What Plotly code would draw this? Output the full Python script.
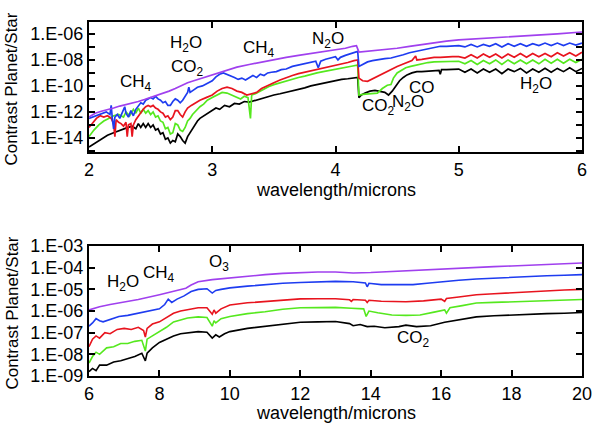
import plotly.graph_objects as go

# ---------------- TOP PANEL (2-6 microns), values as log10(contrast) ----------------
top_black_x = [2.00,2.05,2.10,2.15,2.20,2.25,2.30,2.35,2.38,2.40,2.42,2.44,2.46,2.48,2.50,2.52,2.54,2.56,2.58,2.60,2.62,2.64,2.66,2.68,2.70,2.72,2.74,2.76,2.78,2.80,2.82,2.84,2.86,2.88,2.90,2.93,2.96,3.00,3.03,3.06,3.10,3.14,3.18,3.22,3.26,3.30,3.35,3.40,3.45,3.50,3.55,3.60,3.65,3.70,3.75,3.80,3.85,3.90,3.95,4.00,4.05,4.10,4.15,4.18,4.19,4.21,4.24,4.28,4.32,4.36,4.40,4.43,4.46,4.49,4.52,4.55,4.58,4.62,4.66,4.70,4.75,4.80,4.84,4.85,4.86,4.90,4.95,5.00,5.05,5.10,5.15,5.20,5.25,5.30,5.35,5.40,5.45,5.50,5.55,5.60,5.65,5.70,5.75,5.80,5.85,5.90,5.95,6.00]
top_black_log = [-14.7,-14.4,-14.1,-13.8,-13.6,-13.4,-13.25,-13.1,-13.3,-12.9,-13.2,-12.9,-13.2,-12.9,-13.2,-13.0,-13.4,-13.3,-13.7,-13.6,-14.1,-14.0,-14.4,-14.2,-14.3,-13.7,-13.9,-14.2,-14.4,-13.9,-13.6,-13.3,-12.9,-12.7,-12.5,-12.3,-12.1,-11.9,-11.7,-11.8,-11.5,-11.6,-11.35,-11.4,-11.2,-11.25,-11.1,-10.95,-10.85,-10.7,-10.6,-10.5,-10.4,-10.25,-10.15,-10.0,-9.9,-9.75,-9.65,-9.55,-9.5,-9.45,-9.4,-9.35,-10.9,-10.7,-10.55,-10.4,-10.35,-10.4,-10.5,-10.7,-10.4,-10.0,-9.6,-9.35,-9.15,-9.0,-8.9,-8.9,-8.85,-8.85,-8.8,-9.1,-8.75,-8.75,-8.7,-8.7,-8.95,-8.7,-9.0,-8.7,-8.95,-8.7,-9.05,-8.7,-8.9,-8.65,-9.0,-8.7,-8.95,-8.65,-8.95,-8.65,-8.9,-8.6,-8.9,-8.65]

top_green_x = [2.00,2.04,2.08,2.12,2.16,2.20,2.24,2.28,2.30,2.33,2.36,2.38,2.40,2.42,2.44,2.46,2.48,2.50,2.52,2.54,2.56,2.58,2.60,2.62,2.64,2.66,2.68,2.70,2.72,2.74,2.76,2.78,2.80,2.82,2.84,2.86,2.88,2.90,2.93,2.96,3.00,3.04,3.08,3.12,3.16,3.20,3.23,3.26,3.29,3.31,3.32,3.35,3.38,3.42,3.46,3.50,3.55,3.60,3.65,3.70,3.75,3.80,3.85,3.90,3.95,4.00,4.05,4.10,4.15,4.18,4.19,4.22,4.26,4.30,4.34,4.38,4.42,4.45,4.47,4.50,4.53,4.57,4.61,4.65,4.70,4.75,4.80,4.85,4.90,4.95,5.00,5.05,5.10,5.15,5.20,5.25,5.30,5.35,5.40,5.45,5.50,5.55,5.60,5.65,5.70,5.75,5.80,5.85,5.90,5.95,6.00]
top_green_log = [-13.9,-13.4,-13.0,-12.7,-12.5,-12.3,-12.2,-12.4,-12.0,-12.3,-11.8,-12.1,-11.7,-12.1,-11.8,-12.1,-11.9,-12.2,-12.0,-12.4,-12.3,-12.7,-12.8,-13.3,-13.2,-13.7,-13.6,-12.9,-13.0,-13.4,-13.5,-13.2,-12.7,-12.5,-12.2,-12.0,-11.8,-11.6,-11.4,-11.1,-10.9,-10.7,-10.5,-10.55,-10.7,-10.9,-11.0,-10.8,-10.9,-12.5,-10.7,-10.6,-10.45,-10.2,-10.05,-9.9,-9.75,-9.6,-9.45,-9.35,-9.25,-9.1,-9.0,-8.9,-8.8,-8.75,-8.65,-8.55,-8.45,-8.4,-10.7,-10.65,-10.6,-10.6,-10.55,-10.2,-9.95,-9.9,-9.4,-9.0,-8.8,-8.6,-8.5,-8.4,-8.3,-8.2,-8.15,-8.15,-8.1,-8.1,-8.1,-8.3,-8.05,-8.35,-8.05,-8.3,-8.0,-8.35,-8.0,-8.3,-8.0,-8.3,-8.0,-8.3,-7.95,-8.25,-7.95,-8.25,-7.95,-8.2,-7.95]

top_red_x = [2.00,2.03,2.06,2.09,2.12,2.15,2.18,2.20,2.21,2.22,2.24,2.26,2.28,2.30,2.31,2.32,2.34,2.35,2.36,2.38,2.40,2.42,2.44,2.46,2.48,2.50,2.52,2.54,2.56,2.58,2.60,2.62,2.64,2.66,2.68,2.70,2.72,2.74,2.76,2.78,2.80,2.83,2.86,2.90,2.95,3.00,3.04,3.08,3.12,3.16,3.20,3.24,3.28,3.32,3.36,3.40,3.45,3.50,3.55,3.60,3.65,3.70,3.75,3.80,3.85,3.90,3.95,4.00,4.05,4.10,4.15,4.18,4.19,4.22,4.26,4.30,4.34,4.38,4.42,4.46,4.50,4.54,4.58,4.62,4.65,4.66,4.70,4.75,4.80,4.85,4.90,4.95,5.00,5.05,5.10,5.15,5.20,5.25,5.30,5.35,5.40,5.45,5.50,5.55,5.60,5.65,5.70,5.75,5.80,5.85,5.90,5.95,6.00]
top_red_log = [-13.2,-12.8,-12.5,-12.3,-12.4,-12.3,-12.5,-12.9,-13.9,-12.6,-12.8,-12.9,-13.1,-12.8,-13.9,-13.0,-12.9,-13.9,-13.0,-12.6,-12.3,-12.0,-11.8,-11.6,-11.5,-11.6,-11.5,-11.7,-11.8,-12.0,-12.1,-12.4,-12.3,-12.6,-12.4,-11.9,-11.9,-12.2,-12.4,-12.0,-11.7,-11.5,-11.3,-11.1,-10.9,-10.7,-10.4,-10.2,-10.1,-10.2,-10.4,-10.5,-10.7,-10.6,-10.5,-10.2,-9.95,-9.75,-9.55,-9.35,-9.2,-9.05,-8.95,-8.85,-8.75,-8.65,-8.55,-8.45,-8.3,-8.2,-8.05,-8.0,-9.4,-9.6,-9.65,-9.45,-9.25,-9.1,-8.9,-8.7,-8.5,-8.35,-8.2,-8.05,-7.7,-8.0,-7.95,-7.85,-7.8,-7.8,-7.75,-7.75,-7.75,-7.85,-7.6,-7.85,-7.55,-7.8,-7.55,-7.85,-7.55,-7.8,-7.5,-7.8,-7.5,-7.75,-7.5,-7.75,-7.45,-7.7,-7.45,-7.7,-7.4]

top_blue_x = [2.00,2.05,2.10,2.14,2.17,2.18,2.19,2.20,2.21,2.23,2.25,2.27,2.29,2.30,2.32,2.34,2.36,2.38,2.40,2.42,2.44,2.46,2.48,2.50,2.52,2.54,2.56,2.58,2.60,2.62,2.64,2.66,2.68,2.70,2.72,2.74,2.76,2.78,2.80,2.81,2.82,2.85,2.88,2.92,2.96,3.00,3.03,3.06,3.09,3.12,3.15,3.18,3.21,3.24,3.27,3.30,3.33,3.36,3.39,3.42,3.45,3.48,3.52,3.56,3.60,3.65,3.70,3.75,3.80,3.84,3.86,3.88,3.92,3.96,4.00,4.02,4.04,4.08,4.12,4.16,4.18,4.19,4.22,4.26,4.30,4.35,4.40,4.45,4.50,4.55,4.60,4.65,4.70,4.75,4.80,4.85,4.90,4.95,5.00,5.05,5.10,5.15,5.20,5.25,5.30,5.35,5.40,5.45,5.50,5.55,5.60,5.65,5.70,5.75,5.80,5.85,5.90,5.95,6.00]
top_blue_log = [-12.5,-12.3,-12.1,-12.0,-12.2,-11.5,-12.6,-13.3,-12.4,-12.2,-12.5,-12.0,-11.6,-12.1,-12.4,-11.9,-12.3,-11.8,-11.5,-11.3,-11.4,-11.1,-11.0,-10.9,-11.0,-10.8,-11.0,-11.1,-11.3,-11.2,-11.5,-11.5,-11.2,-11.0,-11.1,-11.3,-11.1,-10.8,-10.5,-10.1,-10.5,-10.3,-10.1,-10.0,-9.8,-9.6,-9.3,-9.1,-9.0,-9.1,-9.2,-9.35,-9.5,-9.4,-9.55,-9.4,-9.2,-9.35,-9.1,-9.2,-9.0,-8.95,-8.9,-8.75,-8.7,-8.5,-8.4,-8.3,-8.15,-8.1,-8.6,-8.1,-7.95,-7.85,-7.75,-8.0,-7.8,-7.65,-7.55,-7.4,-7.35,-8.5,-8.35,-8.15,-8.05,-7.95,-7.9,-7.85,-7.75,-7.6,-7.45,-7.35,-7.2,-7.1,-7.0,-6.95,-6.95,-6.9,-6.9,-7.0,-6.8,-7.0,-6.8,-6.95,-6.75,-7.0,-6.75,-6.95,-6.75,-6.95,-6.75,-6.9,-6.7,-6.9,-6.7,-6.9,-6.7,-6.85,-6.7]

top_purple_x = [2.00,2.05,2.10,2.15,2.20,2.25,2.30,2.35,2.40,2.45,2.50,2.55,2.60,2.65,2.70,2.75,2.80,2.85,2.90,2.95,3.00,3.10,3.20,3.30,3.40,3.50,3.60,3.70,3.80,3.90,4.00,4.08,4.14,4.17,4.19,4.25,4.30,4.40,4.50,4.60,4.70,4.80,4.90,5.00,5.20,5.40,5.60,5.80,6.00]
top_purple_log = [-12.4,-12.1,-11.95,-11.85,-11.7,-11.55,-11.45,-11.3,-11.2,-11.05,-10.9,-10.75,-10.6,-10.4,-10.2,-9.95,-9.75,-9.6,-9.45,-9.3,-9.15,-8.85,-8.55,-8.35,-8.15,-8.0,-7.8,-7.65,-7.5,-7.35,-7.25,-7.1,-6.95,-6.9,-7.4,-7.35,-7.3,-7.2,-7.1,-6.95,-6.8,-6.65,-6.55,-6.45,-6.35,-6.25,-6.1,-6.0,-5.85]

# ---------------- BOTTOM PANEL (6-20 microns) ----------------
bot_black_x = [6.0,6.1,6.2,6.3,6.5,6.7,6.9,7.1,7.3,7.5,7.6,7.65,7.8,8.0,8.2,8.4,8.6,8.8,9.1,9.35,9.5,9.6,9.7,9.85,10.0,10.5,11.0,11.5,12.0,12.5,13.0,13.4,13.5,13.7,13.9,14.1,14.4,14.8,15.0,15.3,15.7,16.1,16.5,17.0,17.5,18.0,18.5,19.0,19.5,20.0]
bot_black_log = [-8.8,-8.65,-8.75,-8.5,-8.5,-8.35,-8.3,-8.2,-8.1,-7.95,-8.3,-7.95,-7.7,-7.45,-7.3,-7.15,-7.05,-7.0,-6.95,-6.98,-7.25,-7.1,-7.2,-7.05,-6.95,-6.8,-6.7,-6.6,-6.52,-6.5,-6.48,-6.58,-6.68,-6.62,-6.72,-6.7,-6.77,-6.72,-6.65,-6.72,-6.68,-6.52,-6.4,-6.27,-6.22,-6.18,-6.15,-6.12,-6.1,-6.07]

bot_green_x = [6.0,6.1,6.2,6.3,6.5,6.7,6.9,7.1,7.3,7.5,7.6,7.65,7.8,8.0,8.2,8.4,8.6,8.8,9.1,9.35,9.5,9.55,9.6,9.75,10.0,10.5,11.0,11.5,12.0,12.5,13.0,13.45,13.8,13.87,13.95,14.2,14.6,15.0,15.4,15.8,16.1,16.15,16.25,16.6,17.0,17.5,18.0,18.5,19.0,19.5,20.0]
bot_green_log = [-8.4,-8.1,-7.9,-8.0,-7.7,-7.65,-7.5,-7.5,-7.4,-7.35,-7.85,-7.3,-7.15,-6.95,-6.75,-6.5,-6.4,-6.32,-6.27,-6.3,-6.7,-6.45,-6.55,-6.35,-6.25,-6.12,-6.03,-5.92,-5.85,-5.83,-5.83,-5.87,-5.9,-6.25,-6.0,-6.08,-6.18,-6.2,-6.18,-6.05,-5.95,-6.1,-5.85,-5.75,-5.63,-5.6,-5.57,-5.55,-5.52,-5.5,-5.47]

bot_red_x = [6.0,6.1,6.2,6.3,6.45,6.6,6.8,7.0,7.2,7.4,7.55,7.6,7.65,7.8,8.0,8.2,8.4,8.6,8.8,9.1,9.35,9.5,9.55,9.6,9.75,10.0,10.5,11.0,11.5,12.0,12.5,13.0,13.4,13.45,13.5,13.85,13.9,13.95,14.3,14.7,15.0,15.5,16.0,16.1,16.15,16.5,17.0,17.5,18.0,18.5,19.0,19.5,20.0]
bot_red_log = [-7.65,-7.3,-7.15,-7.25,-7.0,-7.05,-6.85,-6.8,-6.85,-6.75,-6.9,-7.2,-6.8,-6.6,-6.5,-6.3,-6.1,-6.0,-5.95,-5.85,-5.85,-6.15,-5.95,-6.1,-5.9,-5.72,-5.62,-5.56,-5.5,-5.44,-5.43,-5.43,-5.48,-5.55,-5.47,-5.5,-5.6,-5.5,-5.55,-5.57,-5.57,-5.53,-5.45,-5.55,-5.42,-5.35,-5.25,-5.2,-5.15,-5.1,-5.07,-5.03,-5.0]

bot_blue_x = [6.0,6.1,6.2,6.3,6.4,6.6,6.85,7.1,7.4,7.7,8.0,8.15,8.25,8.35,8.5,8.7,8.9,9.1,9.35,9.5,9.6,9.75,10.0,10.5,11.0,11.5,12.0,12.5,13.0,13.5,13.85,13.9,13.95,14.3,14.7,15.2,15.6,16.0,16.5,17.0,17.5,18.0,18.5,19.0,19.5,20.0]
bot_blue_log = [-6.7,-6.55,-6.35,-6.45,-6.5,-6.4,-6.25,-6.2,-6.1,-6.0,-5.9,-5.7,-5.45,-5.6,-5.45,-5.3,-5.1,-5.0,-4.97,-5.17,-5.05,-5.0,-4.93,-4.85,-4.78,-4.72,-4.68,-4.65,-4.63,-4.65,-4.7,-4.88,-4.72,-4.78,-4.79,-4.78,-4.72,-4.65,-4.58,-4.52,-4.48,-4.43,-4.4,-4.37,-4.35,-4.32]

bot_purple_x = [6.0,6.3,6.6,7.0,7.4,8.0,8.5,8.75,8.9,9.1,9.5,10.0,10.5,11.0,11.5,12.0,12.5,13.0,13.5,14.0,14.5,15.0,15.5,16.0,16.5,17.0,17.5,18.0,18.5,19.0,19.5,20.0]
bot_purple_log = [-5.95,-5.8,-5.7,-5.6,-5.47,-5.25,-5.05,-4.95,-4.8,-4.65,-4.55,-4.47,-4.38,-4.32,-4.26,-4.22,-4.2,-4.2,-4.24,-4.22,-4.18,-4.13,-4.08,-4.05,-4.02,-3.97,-3.95,-3.92,-3.88,-3.85,-3.8,-3.78]

top_major = [-14, -12, -10, -8, -6]
top_ticktext = ["1.E-14", "1.E-12", "1.E-10", "1.E-08", "1.E-06"]
top_minor = [-15, -13, -11, -9, -7, -5]
bot_ticks = [-9, -8, -7, -6, -5, -4, -3]
bot_ticktext = ["1.E-09", "1.E-08", "1.E-07", "1.E-06", "1.E-05", "1.E-04", "1.E-03"]

top_labels = ["CH<sub>4</sub>", "H<sub>2</sub>O", "CO<sub>2</sub>", "CH<sub>4</sub>", "N<sub>2</sub>O",
              "CO<sub>2</sub>", "N<sub>2</sub>O", "CO", "H<sub>2</sub>O"]
top_label_x = [2.38, 2.79, 2.80, 3.38, 3.94, 4.35, 4.59, 4.70, 5.63]
top_label_log = [-9.75, -6.75, -8.65, -7.15, -6.5, -11.65, -11.35, -10.1, -9.95]
bot_labels = ["H<sub>2</sub>O", "CH<sub>4</sub>", "O<sub>3</sub>", "CO<sub>2</sub>"]
bot_label_x = [6.97, 7.98, 9.70, 15.21]
bot_label_log = [-4.7, -4.28, -3.77, -7.27]

colors = {"black": "#000000", "green": "#55E81E", "red": "#E8141E",
          "blue": "#1E3CF0", "purple": "#A040EE"}

fig = go.Figure()
series_top = [("black", top_black_x, top_black_log), ("green", top_green_x, top_green_log),
              ("red", top_red_x, top_red_log), ("blue", top_blue_x, top_blue_log),
              ("purple", top_purple_x, top_purple_log)]
series_bot = [("black", bot_black_x, bot_black_log), ("green", bot_green_x, bot_green_log),
              ("red", bot_red_x, bot_red_log), ("blue", bot_blue_x, bot_blue_log),
              ("purple", bot_purple_x, bot_purple_log)]
for name, xs, ls in series_top:
    fig.add_trace(go.Scatter(x=xs, y=[10 ** v for v in ls], mode="lines",
                             line=dict(color=colors[name], width=1.7),
                             xaxis="x", yaxis="y", showlegend=False, hoverinfo="skip"))
for name, xs, ls in series_bot:
    fig.add_trace(go.Scatter(x=xs, y=[10 ** v for v in ls], mode="lines",
                             line=dict(color=colors[name], width=1.6),
                             xaxis="x2", yaxis="y2", showlegend=False, hoverinfo="skip"))

font = "Liberation Sans, Arial, sans-serif"
axis_common = dict(showline=True, linecolor="black", linewidth=2, mirror="allticks",
                   ticks="inside", ticklen=6, tickwidth=1.5, tickcolor="black",
                   showgrid=False, zeroline=False, ticklabeloverflow="allow",
                   tickfont=dict(family=font, size=18, color="black"))
minor_style = dict(ticks="inside", ticklen=6, tickwidth=1.5, tickcolor="black", showgrid=False)

fig.update_layout(
    width=600, height=425, plot_bgcolor="white", paper_bgcolor="white",
    margin=dict(l=89, r=8, t=22, b=49),
    xaxis=dict(domain=[0, 1], anchor="y", range=[2, 6], tickvals=[2, 3, 4, 5, 6], **axis_common),
    yaxis=dict(domain=[0.633, 1], anchor="x", type="log", range=[-15.08, -5.08],
               tickvals=[10 ** v for v in top_major], ticktext=top_ticktext,
               minor=dict(tickvals=[10 ** v for v in top_minor], **minor_style), **axis_common),
    xaxis2=dict(domain=[0, 1], anchor="y2", range=[6, 20], tickvals=list(range(6, 21, 2)), **axis_common),
    yaxis2=dict(domain=[0, 0.367], anchor="x2", type="log", range=[-9, -3],
                tickvals=[10 ** v for v in bot_ticks], ticktext=bot_ticktext, **axis_common),
)

ann = []
for t, x, l in zip(top_labels, top_label_x, top_label_log):
    ann.append(dict(text=t, x=x, y=l, xref="x", yref="y", showarrow=False,
                    font=dict(family=font, size=17, color="black")))
for t, x, l in zip(bot_labels, bot_label_x, bot_label_log):
    ann.append(dict(text=t, x=x, y=l, xref="x2", yref="y2", showarrow=False,
                    font=dict(family=font, size=17, color="black")))
# axis titles
for yc in [(376 - 89) / 354, (376 - 313) / 354]:
    ann.append(dict(text="Contrast Planet/Star", x=-0.157, y=yc, xref="paper", yref="paper",
                    textangle=-90, showarrow=False, xanchor="center", yanchor="middle",
                    font=dict(family=font, size=17, color="black")))
for yc in [(376 - 190) / 354, (376 - 413) / 354]:
    ann.append(dict(text="wavelength/microns", x=0.5, y=yc, xref="paper", yref="paper",
                    showarrow=False, xanchor="center", yanchor="middle",
                    font=dict(family=font, size=18, color="black")))
fig.update_layout(annotations=ann)

fig.write_html("out.html", config={"displayModeBar": False},
               post_script="document.body.style.margin='0';document.body.style.overflow='hidden';")
